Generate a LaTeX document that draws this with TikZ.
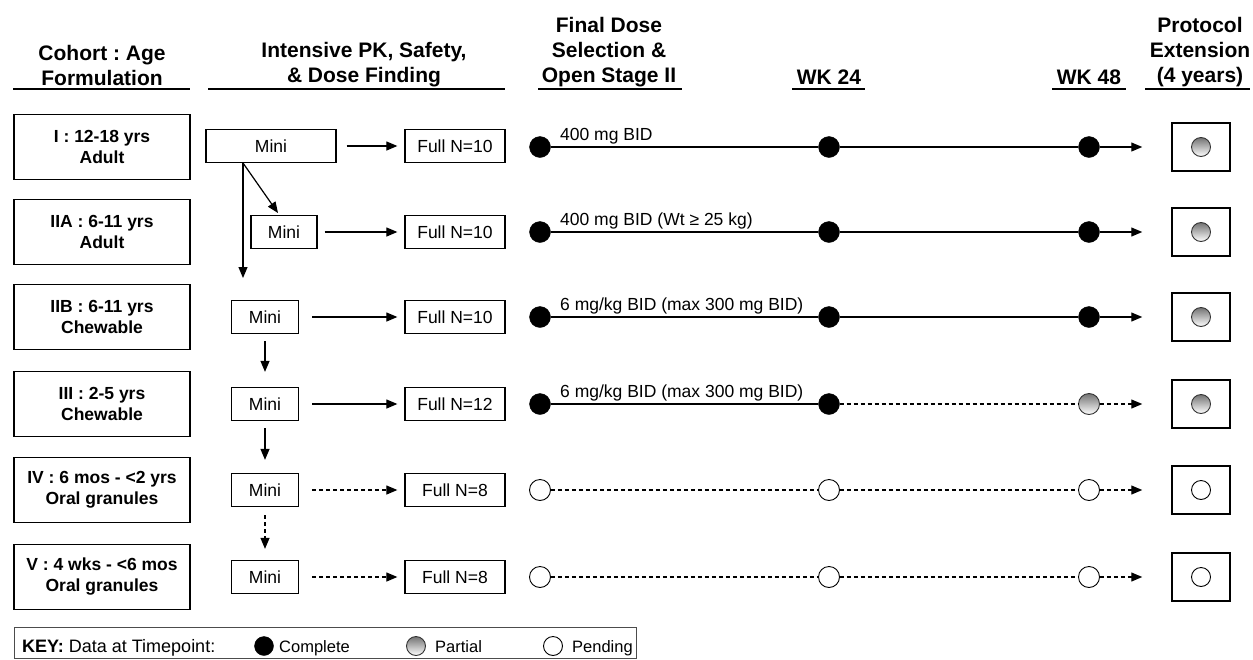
\documentclass[tikz,border=0pt]{standalone}
\usepackage{fontspec}
\setmainfont{Liberation Sans}
\usetikzlibrary{arrows.meta}
\begin{document}
\frenchspacing
\begin{tikzpicture}[x=1pt,y=-1pt,
  hdr/.style={font=\bfseries\fontsize{21}{25}\selectfont, inner sep=0pt, align=center},
  uline/.style={line width=2pt},
  cohort/.style={draw, line width=1.6pt, minimum width=176pt, minimum height=65pt, align=center, inner sep=0pt, font=\bfseries\fontsize{17.5}{21}\selectfont},
  minibox/.style={draw, line width=1.3pt, minimum height=33pt, inner sep=0pt, font=\fontsize{17.5}{21}\selectfont},
  fullbox/.style={draw, line width=1.3pt, minimum width=100pt, minimum height=33pt, inner sep=0pt, font=\fontsize{17.5}{21}\selectfont},
  extbox/.style={draw, line width=1.5pt, minimum width=58pt, minimum height=48pt, inner sep=0pt},
  complete/.style={circle, fill=black, draw=black, minimum size=21pt, inner sep=0pt},
  partial/.style={circle, draw=black!80, line width=0.9pt, top color=black!55, bottom color=white, minimum size=21pt, inner sep=0pt},
  pending/.style={circle, draw=black, fill=white, line width=0.9pt, minimum size=21pt, inner sep=0pt},
  lbl/.style={font=\fontsize{17.5}{21}\selectfont, inner sep=0pt, anchor=base west},
  arr/.style={line width=1.2pt, -{Triangle[length=11pt,width=9pt]}},
  ln/.style={line width=1.2pt},
  dsh/.style={dash pattern=on 4pt off 3pt},
  keyt/.style={font=\fontsize{16.5}{19}\selectfont, inner sep=0pt, anchor=base west}
]
\useasboundingbox (0,0) rectangle (1253,659);

% headers
\node[hdr] (h1) at (102,65) {Cohort : Age\\Formulation};
\node[hdr] (h2) at (364,65) {Intensive PK, Safety,\\\& Dose Finding};
\node[hdr] (h3) at (609,52) {Final Dose\\Selection \&\\Open Stage II};
\node[hdr] (h4) at (829,77) {WK 24};
\node[hdr] (h5) at (1089,77) {WK 48};
\node[hdr] (h6) at (1200,52) {Protocol\\Extension\\(4 years)};
\coordinate (u1a) at (13,89); \coordinate (u1b) at (190,89);
\coordinate (u2a) at (208,89); \coordinate (u2b) at (505,89);
\coordinate (u3a) at (538,89); \coordinate (u3b) at (682,89);
\coordinate (u4a) at (792,89); \coordinate (u4b) at (865,89);
\coordinate (u5a) at (1052,89); \coordinate (u5b) at (1126,89);
\coordinate (u6a) at (1145,89); \coordinate (u6b) at (1250,89);
\draw[uline] (u1a) -- (u1b);
\draw[uline] (u2a) -- (u2b);
\draw[uline] (u3a) -- (u3b);
\draw[uline] (u4a) -- (u4b);
\draw[uline] (u5a) -- (u5b);
\draw[uline] (u6a) -- (u6b);

% cohort boxes
\node[cohort] (c1) at (102,147) {I : 12-18 yrs\\Adult};
\node[cohort] (c2) at (102,232) {IIA : 6-11 yrs\\Adult};
\node[cohort] (c3) at (102,317) {IIB : 6-11 yrs\\Chewable};
\node[cohort] (c4) at (102,404) {III : 2-5 yrs\\Chewable};
\node[cohort] (c5) at (102,490) {IV : 6 mos - <2 yrs\\Oral granules};
\node[cohort] (c6) at (102,577) {V : 4 wks - <6 mos\\Oral granules};

% mini boxes
\node[minibox, minimum width=130pt] (m1) at (271,146) {Mini};
\node[minibox, minimum width=66pt] (m2) at (284,232) {Mini};
\node[minibox, minimum width=67pt] (m3) at (265,317) {Mini};
\node[minibox, minimum width=67pt] (m4) at (265,404) {Mini};
\node[minibox, minimum width=67pt] (m5) at (265,490) {Mini};
\node[minibox, minimum width=67pt] (m6) at (265,577) {Mini};

% full boxes
\node[fullbox] (f1) at (455,146) {Full N=10};
\node[fullbox] (f2) at (455,232) {Full N=10};
\node[fullbox] (f3) at (455,317) {Full N=10};
\node[fullbox] (f4) at (455,404) {Full N=12};
\node[fullbox] (f5) at (455,490) {Full N=8};
\node[fullbox] (f6) at (455,577) {Full N=8};

% mini -> full
\draw[arr, shorten <=10pt, shorten >=7pt] (m1) -- (f1);
\draw[arr, shorten <=7pt, shorten >=7pt] (m2) -- (f2);
\draw[arr, shorten <=13pt, shorten >=7pt] (m3) -- (f3);
\draw[arr, shorten <=13pt, shorten >=7pt] (m4) -- (f4);
\draw[arr, dsh, shorten <=13pt, shorten >=7pt] (m5) -- (f5);
\draw[arr, dsh, shorten <=13pt, shorten >=7pt] (m6) -- (f6);

% vertical / diagonal flow
\coordinate (b1) at (243,163);
\coordinate (b2) at (243,278);
\coordinate (b3) at (278,213);
\draw[arr] (b1) -- (b2);
\draw[arr] (b1) -- (b3);
\draw[arr, shorten <=7pt, shorten >=15pt] (m3) -- (m4);
\draw[arr, shorten <=7pt, shorten >=13pt] (m4) -- (m5);
\draw[arr, dsh, shorten <=8pt, shorten >=11pt] (m5) -- (m6);

% timelines
\foreach \i/\y/\a/\b/\c/\e in {1/147/complete/complete/complete/partial,
                               2/232/complete/complete/complete/partial,
                               3/317/complete/complete/complete/partial,
                               4/404/complete/complete/partial/partial,
                               5/490/pending/pending/pending/pending,
                               6/577/pending/pending/pending/pending}{
  \node[extbox] (e\i) at (1201,\y) {};
  \node[\e, minimum size=19pt] (ec\i) at (1201,\y) {};
  \node[\a] (s\i) at (540,\y) {};
  \node[\b] (w\i) at (829,\y) {};
  \node[\c] (x\i) at (1089,\y) {};
}
\draw[ln] (s1) -- (w1); \draw[ln] (w1) -- (x1); \draw[arr, shorten >=29pt] (x1) -- (e1);
\draw[ln] (s2) -- (w2); \draw[ln] (w2) -- (x2); \draw[arr, shorten >=29pt] (x2) -- (e2);
\draw[ln] (s3) -- (w3); \draw[ln] (w3) -- (x3); \draw[arr, shorten >=29pt] (x3) -- (e3);
\draw[ln] (s4) -- (w4); \draw[ln, dsh] (w4) -- (x4); \draw[arr, dsh, shorten >=29pt] (x4) -- (e4);
\draw[ln, dsh] (s5) -- (w5); \draw[ln, dsh] (w5) -- (x5); \draw[arr, dsh, shorten >=29pt] (x5) -- (e5);
\draw[ln, dsh] (s6) -- (w6); \draw[ln, dsh] (w6) -- (x6); \draw[arr, dsh, shorten >=29pt] (x6) -- (e6);

% dose labels
\node[lbl] (d1) at (560,140) {400 mg BID};
\node[lbl] (d2) at (560,225) {400 mg BID (Wt ≥ 25 kg)};
\node[lbl] (d3) at (560,310) {6 mg/kg BID (max 300 mg BID)};
\node[lbl] (d4) at (560,397) {6 mg/kg BID (max 300 mg BID)};

% key
\node[draw=black!70, line width=1pt, minimum width=622pt, minimum height=31pt, inner sep=0pt] (key) at (325,643) {};
\node[keyt, font=\fontsize{18}{21}\selectfont] (kt) at (22,652) {\textbf{KEY:} Data at Timepoint:};
\node[complete, minimum size=19pt] (k1) at (264,646) {};
\node[keyt] (k1t) at (279,652) {Complete};
\node[partial, minimum size=19pt] (k2) at (416,646) {};
\node[keyt] (k2t) at (435,652) {Partial};
\node[pending, minimum size=19pt] (k3) at (553,646) {};
\node[keyt] (k3t) at (572,652) {Pending};
\end{tikzpicture}
\end{document}
